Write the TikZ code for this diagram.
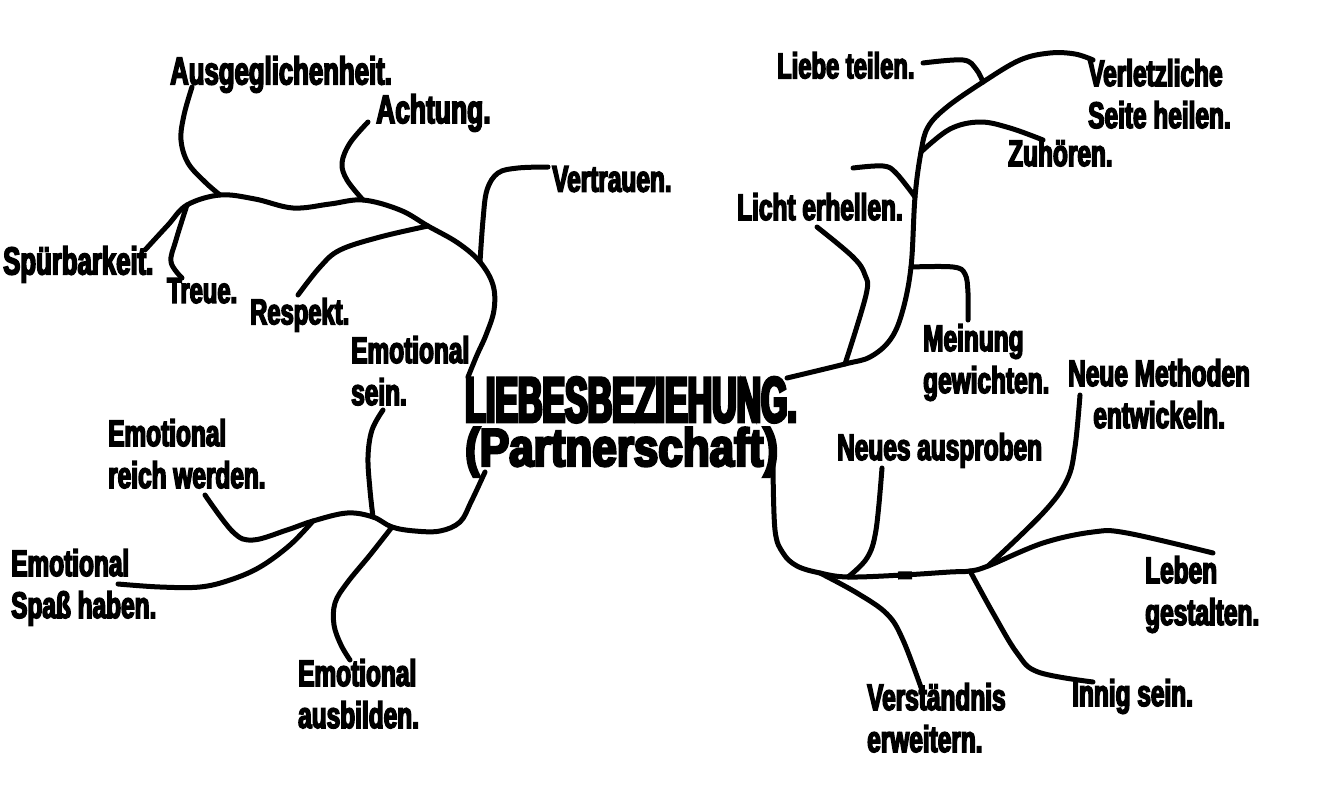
\documentclass[tikz,border=0pt]{standalone}
\usepackage{fontspec}
\newfontfamily\labfont{Liberation Sans}[FakeStretch=0.66,BoldFeatures={FakeBold=4}]
\newfontfamily\titAfont{Liberation Sans}[FakeStretch=0.53,BoldFeatures={FakeBold=5}]
\newfontfamily\titBfont{Liberation Sans}[FakeStretch=0.83,BoldFeatures={FakeBold=5}]
\begin{document}
\begin{tikzpicture}[x=1pt,y=-1pt,
  lab/.style={inner sep=0pt,anchor=north west,align=left,
    font=\labfont\bfseries\fontsize{#1}{42}\selectfont},
  lab/.default=37,
  labc/.style={inner sep=0pt,anchor=north west,align=center,
    font=\labfont\bfseries\fontsize{#1}{42}\selectfont},
  labc/.default=37,
  branch/.style={line width=5pt,line cap=round,line join=round},
  sm/.style={smooth,tension=0.6}]
\useasboundingbox (0,0) rectangle (1327,800);
\fill[white] (0,0) rectangle (1327,800);

% ---------- labels ----------
\node[inner sep=0pt,anchor=north west,align=left,font=\titAfont\bfseries\fontsize{64}{44}\selectfont] (title) at (465,377)
  {LIEBESBEZIEHUNG.\\{\titBfont\bfseries\fontsize{53}{44}\selectfont(Partnerschaft)}};

\node[lab=39] (ausg) at (170,56) {Ausgeglichenheit.};
\node[lab=40] (acht) at (376,94) {Achtung.};
\node[lab=39] (spuer) at (3,246) {Spürbarkeit.};
\node[lab=36] (treue) at (167,278) {Treue.};
\node[lab=36] (resp) at (250,298) {Respekt.};
\node[lab] (esein) at (351,336) {Emotional\\sein.};
\node[lab] (ereich) at (108,419) {Emotional\\reich werden.};
\node[lab] (espass) at (11,549) {Emotional\\Spaß haben.};
\node[lab] (eausb) at (298,659) {Emotional\\ausbilden.};
\node[lab] (vertr) at (552,166) {Vertrauen.};

\node[lab=36] (liebe) at (777,52) {Liebe teilen.};
\node[lab] (verl) at (1088,59) {Verletzliche\\Seite heilen.};
\node[lab] (zuh) at (1008,139) {Zuhören.};
\node[lab] (licht) at (737,193) {Licht erhellen.};
\node[lab] (mein) at (923,324) {Meinung\\gewichten.};
\node[labc] (neuem) at (1068,359) {Neue Methoden\\entwickeln.};
\node[lab] (neues) at (837,433) {Neues ausproben};
\node[lab] (leben) at (1145,556) {Leben\\gestalten.};
\node[lab] (innig) at (1072,679) {Innig sein.};
\node[lab] (verst) at (867,683) {Verständnis\\erweitern.};

% ---------- junctions ----------
\coordinate (jL) at (187,205);
\coordinate (jA) at (220,195);
\coordinate (jAc) at (363,200);
\coordinate (jR) at (428,226);
\coordinate (jV) at (480,262);
\coordinate (jS) at (373,517);
\coordinate (jB) at (392,527);
\coordinate (jP) at (313,521);
\coordinate (jLi) at (983,82);
\coordinate (jZ) at (921,152);
\coordinate (jLh) at (915,197);
\coordinate (jM) at (911,267);
\coordinate (jLl) at (845,364);
\coordinate (jVe) at (820,573);
\coordinate (jN) at (848,577);
\coordinate (jI) at (970,571);
\coordinate (jNM) at (988,566);

% ---------- left upper ----------
\draw[branch] plot[sm] coordinates {(145,250) (168,225) (jL) (jA) (255,199) (293,208) (330,204) (jAc) (400,210) (jR) (458,243) (jV) (493,285) (494,310) (486,335) (477,355) (468,377)};
\draw[branch] plot[sm] coordinates {(jL) (176,240) (171,262) (182,278)};
\draw[branch] plot[sm] coordinates {(192,87) (184,115) (181,140) (188,163) (205,182) (jA)};
\draw[branch] plot[sm] coordinates {(368,122) (350,143) (342,163) (347,180) (jAc)};
\draw[branch] plot[sm] coordinates {(jR) (380,237) (340,250) (320,267) (298,295)};
\draw[branch] plot[sm] coordinates {(jV) (483,220) (487,190) (498,173) (518,168) (548,167)};

% ---------- left lower ----------
\draw[branch] plot[sm] coordinates {(485,472) (471,502) (460,522) (440,531) (415,531) (jB) (jS) (347,513) (jP) (287,530) (253,540) (233,532) (205,495)};
\draw[branch] plot[sm] coordinates {(jS) (370,490) (368,457) (372,430) (383,410)};
\draw[branch] plot[sm] coordinates {(jB) (370,555) (347,583) (335,603) (334,625) (341,645) (350,660)};
\draw[branch] plot[sm] coordinates {(jP) (290,545) (260,567) (230,580) (200,587) (160,587) (118,584)};

% ---------- right upper ----------
\draw[branch] plot[sm] coordinates {(787,378) (jLl) (870,357) (890,340) (902,313) (jM) (jLh) (jZ) (928,127) (947,107) (jLi) (1020,60) (1050,53) (1075,54) (1093,60)};
\draw[branch] plot[sm] coordinates {(923,63) (963,60) (976,69) (jLi)};
\draw[branch] plot[sm] coordinates {(jZ) (950,129) (980,122) (1010,128) (1043,140)};
\draw[branch] plot[sm] coordinates {(853,168) (883,166) (896,173) (jLh)};
\draw[branch] plot[sm] coordinates {(817,227) (853,257) (865,275) (866,295) (jLl)};
\draw[branch] plot[sm] coordinates {(jM) (953,267) (965,274) (968,293) (968,320)};

% ---------- right lower ----------
\draw[branch] plot[sm] coordinates {(773,465) (775,530) (783,553) (797,566) (jVe) (jN) (903,575) (950,572) (jI) (jNM) (1043,543) (1093,532) (1127,533) (1213,553)};
\draw[branch,line width=8pt,line cap=butt] (898,575.5) -- (912,575.3);
\draw[branch] plot[sm] coordinates {(882,468) (876,530) (867,558) (jN)};
\draw[branch] plot[sm] coordinates {(1080,395) (1075,447) (1067,480) (1043,513) (jNM)};
\draw[branch] plot[sm] coordinates {(jVe) (857,593) (887,614) (903,640) (923,693)};
\draw[branch] plot[sm] coordinates {(jI) (993,613) (1017,653) (1038,672) (1093,682)};
\end{tikzpicture}
\end{document}
